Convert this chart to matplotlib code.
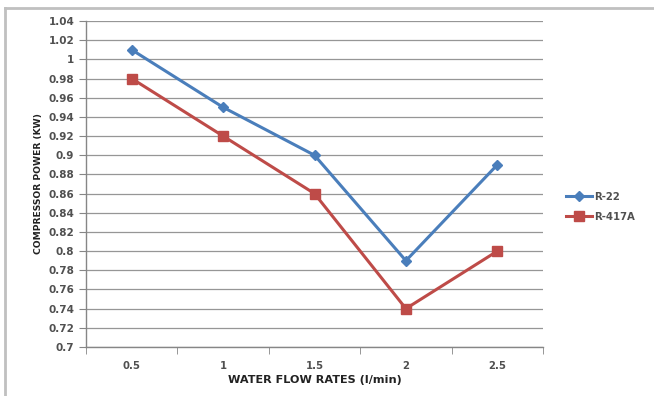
import matplotlib
matplotlib.use("Agg")
import matplotlib.pyplot as plt
from matplotlib.lines import Line2D
import numpy as np

categories = ["0.5", "1", "1.5", "2", "2.5"]
r22 = [1.01, 0.95, 0.90, 0.79, 0.89]
r417a = [0.98, 0.92, 0.86, 0.74, 0.80]
yticks = [0.70, 0.72, 0.74, 0.76, 0.78, 0.80, 0.82, 0.84, 0.86, 0.88, 0.90,
          0.92, 0.94, 0.96, 0.98, 1.00, 1.02, 1.04]
ytick_labels = ["0.7", "0.72", "0.74", "0.76", "0.78", "0.8", "0.82", "0.84", "0.86",
                "0.88", "0.9", "0.92", "0.94", "0.96", "0.98", "1", "1.02", "1.04"]

plt.rcParams['font.family'] = ['DejaVu Sans']

fig = plt.figure(figsize=(6.54, 3.96), dpi=100)
W, H = 654, 396
ax = fig.add_axes([86 / W, 1 - 347 / H, (543 - 86) / W, (347 - 21) / H])

x = np.arange(len(categories))
ax.plot(x, r22, color="#4A7EBB", lw=2.2, marker="D", ms=5, label="R-22", zorder=3)
ax.plot(x, r417a, color="#BE4B48", lw=2.2, marker="s", ms=6.5, label="R-417A", zorder=3)

ax.set_xlim(-0.5, len(categories) - 0.5)
ax.set_ylim(0.70, 1.04)
ax.set_yticks(yticks)
ax.set_yticklabels(ytick_labels)
ax.set_xticks(x)
ax.set_xticklabels(categories)
ax.set_xticks(np.arange(-0.5, len(categories)), minor=True)
ax.tick_params(axis="x", which="major", length=0, pad=10, labelsize=7.3, labelcolor="#505050")
ax.tick_params(axis="x", which="minor", length=5, color="#868686", direction="out")
ax.tick_params(axis="y", length=5, color="#868686", direction="out", pad=3.5,
               labelsize=7.5, labelcolor="#505050")
for lab in ax.get_xticklabels() + ax.get_yticklabels():
    lab.set_fontweight("bold")

ax.grid(axis="y", color="#969696", lw=0.9)
ax.set_axisbelow(True)
for s in ["top", "right"]:
    ax.spines[s].set_visible(False)
for s in ["left", "bottom"]:
    ax.spines[s].set_color("#868686")
    ax.spines[s].set_linewidth(1.0)

ax.set_xlabel("WATER FLOW RATES (l/min)", fontsize=8.1, fontweight="bold",
              color="#222222", labelpad=3)
ax.set_ylabel("COMPRESSOR POWER (KW)", fontsize=6.6, fontweight="bold",
              color="#222222", labelpad=4)

leg = ax.legend(loc="center left", bbox_to_anchor=(1.03, 0.43), frameon=False,
                fontsize=7.3, handlelength=2.6, labelspacing=1.0, handletextpad=0.15)
for t in leg.get_texts():
    t.set_fontweight("bold")
    t.set_color("#505050")

fig.add_artist(Line2D([5 / W, 1], [1 - 8 / H, 1 - 8 / H], color="#C0C0C0", lw=2))
fig.add_artist(Line2D([5 / W, 5 / W], [0, 1 - 8 / H], color="#C0C0C0", lw=2))

fig.savefig("out.png", dpi=100)
